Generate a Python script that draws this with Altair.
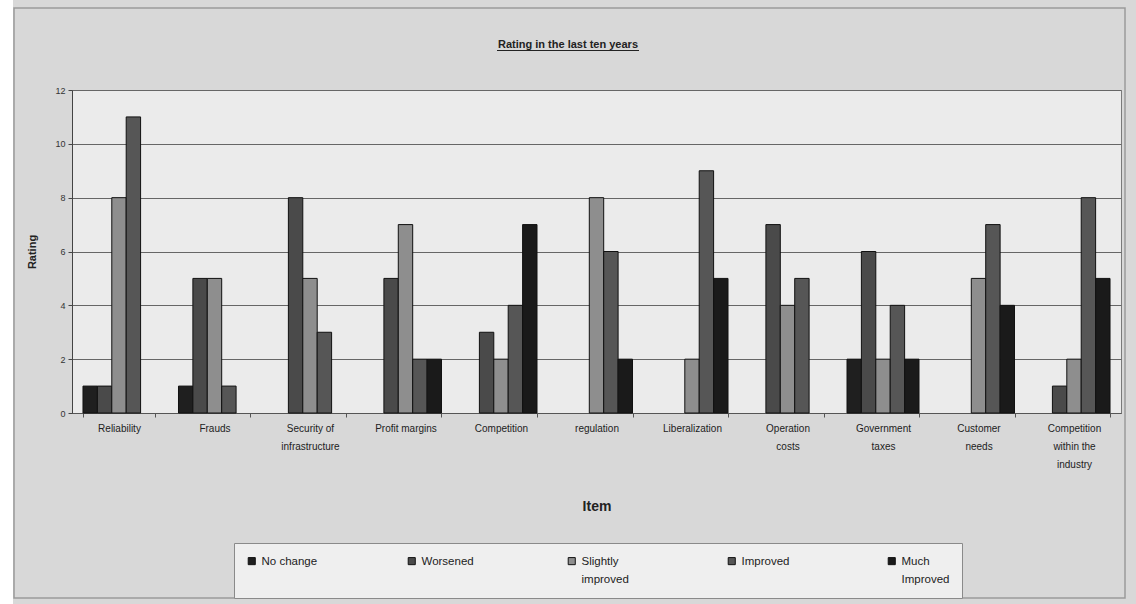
import altair as alt
import pandas as pd

# Survey items and the five rating categories
items = [
    "Reliability", "Frauds", "Security of infrastructure", "Profit margins",
    "Competition", "regulation", "Liberalization", "Operation costs",
    "Government taxes", "Customer needs", "Competition within the industry",
]
series = ["No change", "Worsened", "Slightly improved", "Improved", "Much Improved"]

# Number of responses per item, one list per rating category
no_change = [1, 1, 0, 0, 0, 0, 0, 0, 2, 0, 0]
worsened = [1, 5, 8, 5, 3, 0, 0, 7, 6, 0, 1]
slightly_improved = [8, 5, 5, 7, 2, 8, 2, 4, 2, 5, 2]
improved = [11, 1, 3, 2, 4, 6, 9, 5, 4, 7, 8]
much_improved = [0, 0, 0, 2, 7, 2, 5, 0, 2, 4, 5]

colors = ["#1f1f1f", "#4a4a4a", "#8e8e8e", "#565656", "#1a1a1a"]

# Wrapped labels for the long category names
x_lines = {
    "Security of infrastructure": ["Security of", "infrastructure"],
    "Operation costs": ["Operation", "costs"],
    "Government taxes": ["Government", "taxes"],
    "Customer needs": ["Customer", "needs"],
    "Competition within the industry": ["Competition", "within the", "industry"],
}
# Legend entries all take two lines so the swatches line up
legend_lines = {
    "No change": ["No change", " "],
    "Worsened": ["Worsened", " "],
    "Slightly improved": ["Slightly", "improved"],
    "Improved": ["Improved", " "],
    "Much Improved": ["Much", "Improved"],
}


def split_expr(mapping):
    expr = "datum.label"
    for key, lines in mapping.items():
        arr = "[" + ", ".join("'" + s + "'" for s in lines) + "]"
        expr = f"datum.label == '{key}' ? {arr} : ({expr})"
    return expr


rows = []
for name, vals in zip(series, [no_change, worsened, slightly_improved, improved, much_improved]):
    for item, v in zip(items, vals):
        if v > 0:
            rows.append({"Item": item, "Series": name, "Rating": v})
df = pd.DataFrame(rows)

W, H = 1049, 323
FONT = "Liberation Sans"
LABEL_DY = 4  # guide labels sit slightly lower so legend text lines up with swatches

bars = alt.Chart(df).mark_bar(stroke="#111111", strokeWidth=1).encode(
    x=alt.X(
        "Item:N",
        sort=items,
        scale=alt.Scale(domain=items, paddingInner=0.246, paddingOuter=0.115),
        axis=alt.Axis(
            title="Item", titleFontSize=14, titleFont=FONT, titleFontWeight="bold",
            titleColor="#222222", titleY=93, titleBaseline="middle",
            labelAngle=0, labelFont=FONT, labelFontSize=10,
            labelColor="#222222", labelPadding=6 - LABEL_DY, labelLineHeight=18,
            labelExpr=split_expr(x_lines), labelLimit=200,
            tickSize=4, tickBand="extent", tickColor="#555555",
            domainColor="#555555", grid=False,
        ),
    ),
    xOffset=alt.XOffset("Series:N", sort=series, scale=alt.Scale(domain=series)),
    y=alt.Y(
        "Rating:Q",
        scale=alt.Scale(domain=[0, 12], nice=False),
        axis=alt.Axis(
            values=[0, 2, 4, 6, 8, 10, 12], format="d",
            title="Rating", titleFontSize=11, titleFont=FONT, titleFontWeight="bold",
            titleColor="#222222", titleX=-40, titleY=H / 2, titleAngle=-90,
            titleBaseline="middle",
            labelFontSize=9, labelFont=FONT, labelColor="#333333", labelPadding=3,
            labelOffset=-LABEL_DY,
            tickSize=4, tickColor="#444444", domainColor="#444444",
            gridColor="#666666", gridWidth=1,
        ),
    ),
    color=alt.Color(
        "Series:N",
        sort=series,
        scale=alt.Scale(domain=series, range=colors),
        legend=alt.Legend(
            title=None, orient="none", legendX=162, legendY=453,
            direction="horizontal", columns=5, gridAlign="all",
            columnPadding=88, padding=12,
            symbolType="square", symbolSize=50, symbolStrokeColor="#111111",
            symbolStrokeWidth=1, symbolOffset=0,
            labelFont=FONT, labelFontSize=11.5, labelColor="#222222",
            labelExpr=split_expr(legend_lines), labelBaseline="alphabetic",
            labelLimit=200,
            fillColor="#efefef", strokeColor="#8a8a8a",
        ),
    ),
)

# Outer frame and white page margin on the left
frame = alt.Chart(pd.DataFrame({"a": [0]})).mark_rect(
    fillOpacity=0, stroke="#9a9a9a", strokeWidth=1.5
).encode(x=alt.value(-58), x2=alt.value(1053), y=alt.value(-82), y2=alt.value(508))
margin = alt.Chart(pd.DataFrame({"a": [0]})).mark_rect(fill="#ffffff").encode(
    x=alt.value(-72), x2=alt.value(-59), y=alt.value(-90), y2=alt.value(514)
)

title_text = "Rating in the last ten years"
title = alt.Chart(pd.DataFrame({"t": [title_text]})).mark_text(
    font=FONT, fontSize=11, fontWeight="bold", color="#222222", baseline="alphabetic"
).encode(text="t:N", x=alt.value(496), y=alt.value(-42))
underline = alt.Chart(pd.DataFrame({"a": [0]})).mark_rule(
    color="#222222", strokeWidth=1
).encode(x=alt.value(425), x2=alt.value(567), y=alt.value(-39.5))

chart = alt.layer(margin, frame, bars, title, underline).properties(
    width=W, height=H,
    background="#d8d8d8",
    padding={"left": 72, "top": 90, "right": 15, "bottom": 191},
    autosize=alt.AutoSizeParams(type="none"),
).configure(
    style={"guide-label": {"lineHeight": 18, "dy": LABEL_DY}}
).configure_view(
    stroke="#7a7a7a", fill="#ebebeb"
)

chart.save("out.html", embed_options={"renderer": "svg", "actions": False})
